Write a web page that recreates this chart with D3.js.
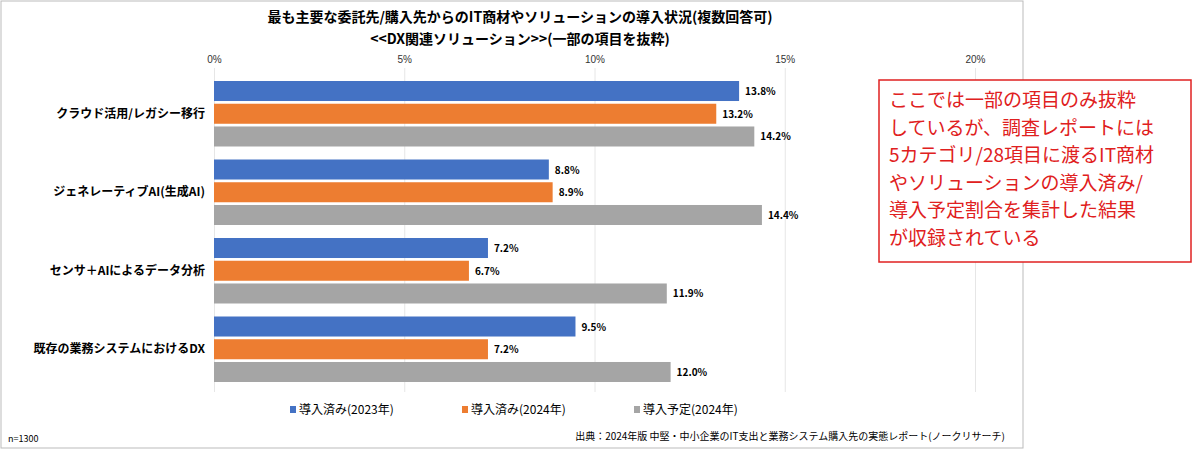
<!DOCTYPE html>
<html><head><meta charset="utf-8">
<script src="https://cdn.jsdelivr.net/npm/d3@7"></script>
<style>body{margin:0;background:#fff;font-family:"Noto Sans CJK JP",sans-serif;}</style>
</head><body><div id="chart"></div>
<script>
const categories = ['クラウド活用/レガシー移行', 'ジェネレーティブAI(生成AI)', 'センサ＋AIによるデータ分析', '既存の業務システムにおけるDX'];
const seriesNames = ['導入済み(2023年)', '導入済み(2024年)', '導入予定(2024年)'];
const seriesColors = ['#4472c4', '#ed7d31', '#a5a5a5'];
const values2023 = [13.8, 8.8, 7.2, 9.5];
const values2024 = [13.2, 8.9, 6.7, 7.2];
const plan2024 = [14.2, 14.4, 11.9, 12.0];
const ticks = [0, 5, 10, 15, 20];
const noteLines = ['ここでは一部の項目のみ抜粋', 'しているが、調査レポートには', '5カテゴリ/28項目に渡るIT商材', 'やソリューションの導入済み/', '導入予定割合を集計した結果', 'が収録されている'];

const width = 1200, height = 451;
const svg = d3.select('#chart').append('svg').attr('width', width).attr('height', height);

// frame
svg.append('rect').attr('x', 1).attr('y', 1).attr('width', 1022).attr('height', 447)
  .attr('fill', 'none').attr('stroke', '#bbb');

svg.append('text').attr('x', 520).attr('y', 22).attr('text-anchor', 'middle')
  .attr('font-size', 14).attr('font-weight', 'bold').text('最も主要な委託先/購入先からのIT商材やソリューションの導入状況(複数回答可)');
svg.append('text').attr('x', 520).attr('y', 44).attr('text-anchor', 'middle')
  .attr('font-size', 14).attr('font-weight', 'bold').text('<<DX関連ソリューション>>(一部の項目を抜粋)');

const x = d3.scaleLinear().domain([0, 20]).range([214, 975]);
const y0 = d3.scaleBand().domain(categories).range([78, 392]).paddingInner(0);
const y1 = d3.scaleBand().domain([0, 1, 2]).range([3, y0.bandwidth() - 10]).paddingInner(0.12);

const xAxis = d3.axisTop(x).tickValues(ticks).tickFormat(d => d + '%').tickSize(-(392 - 68));
const ax = svg.append('g').attr('transform', 'translate(0,68)').call(xAxis);
ax.select('.domain').remove();
ax.selectAll('.tick line').attr('stroke', '#e6e6e6');
ax.selectAll('.tick text').attr('font-size', 10).attr('fill', '#333').attr('dy', '-0.2em');

const series = [values2023, values2024, plan2024];
categories.forEach((c, i) => {
  const g = svg.append('g').attr('transform', `translate(0,${y0(c)})`);
  series.forEach((s, j) => {
    g.append('rect').attr('x', x(0)).attr('y', y1(j)).attr('width', x(s[i]) - x(0))
      .attr('height', y1.bandwidth()).attr('fill', seriesColors[j]);
    g.append('text').attr('x', x(s[i]) + 6).attr('y', y1(j) + y1.bandwidth() / 2 + 4)
      .attr('font-size', 10).attr('font-weight', 'bold').text(s[i].toFixed(1) + '%');
  });
  svg.append('text').attr('x', 205).attr('y', y0(c) + (y0.bandwidth() - 7) / 2 + 4)
    .attr('text-anchor', 'end').attr('font-size', 12).attr('font-weight', 'bold').text(c);
});

// legend
const lg = svg.append('g').attr('transform', 'translate(290,411)');
let lx = 0;
seriesNames.forEach((n, j) => {
  lg.append('rect').attr('x', lx).attr('y', -5).attr('width', 6).attr('height', 7).attr('fill', seriesColors[j]);
  lg.append('text').attr('x', lx + 9).attr('y', 3).attr('font-size', 12).text(n);
  lx += 172;
});

svg.append('text').attr('x', 8).attr('y', 442).attr('font-size', 9).text('n=1300');
svg.append('text').attr('x', 1005).attr('y', 440).attr('text-anchor', 'end').attr('font-size', 10)
  .text('出典：2024年版 中堅・中小企業のIT支出と業務システム購入先の実態レポート(ノークリサーチ)');

// note box
svg.append('rect').attr('x', 879).attr('y', 80).attr('width', 312).attr('height', 182)
  .attr('fill', '#fff').attr('stroke', '#e02020').attr('stroke-width', 1.5);
noteLines.forEach((t, i) => {
  svg.append('text').attr('x', 889).attr('y', 107 + i * 27.5).attr('font-size', 19)
    .attr('fill', '#e02020').text(t);
});
</script></body></html>
